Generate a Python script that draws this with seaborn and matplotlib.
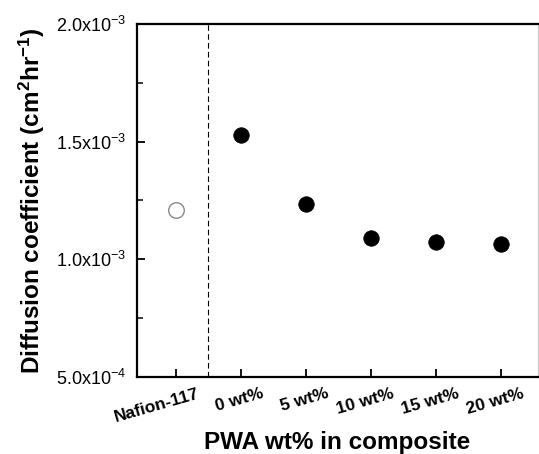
import matplotlib
matplotlib.use("Agg")
import matplotlib.pyplot as plt
import matplotlib.transforms as mtransforms
import seaborn as sns
import pandas as pd
from matplotlib.ticker import FixedLocator, MultipleLocator, FuncFormatter

categories = ["Nafion-117", "0 wt%", "5 wt%", "10 wt%", "15 wt%", "20 wt%"]
diffusion = [1.21e-3, 1.528e-3, 1.234e-3, 1.090e-3, 1.075e-3, 1.063e-3]
sample_type = ["reference", "composite", "composite", "composite", "composite", "composite"]

sns.set_style("ticks")
plt.rcParams["font.family"] = ["Liberation Sans", "DejaVu Sans"]
plt.rcParams["mathtext.fontset"] = "custom"
plt.rcParams["mathtext.rm"] = "Liberation Sans"
plt.rcParams["mathtext.bf"] = "Liberation Sans:bold"
plt.rcParams["mathtext.it"] = "Liberation Sans:italic"
for key in ["text.color", "axes.labelcolor", "xtick.color", "ytick.color"]:
    plt.rcParams[key] = "black"

df = pd.DataFrame({"cat": categories, "D": diffusion, "type": sample_type})

fig = plt.figure(figsize=(5.39, 4.54), dpi=100)
ax = fig.add_axes([0.254, 0.170, 0.744, 0.777])

sns.scatterplot(data=df[df["type"] == "reference"], x="cat", y="D", ax=ax,
                marker="o", s=125, facecolor="white", edgecolor="#888888",
                linewidth=1.0, legend=False)
sns.scatterplot(data=df[df["type"] == "composite"], x="cat", y="D", ax=ax,
                marker="o", s=125, color="black", edgecolor="black",
                linewidth=0.5, legend=False)

ax.set_xticks(range(len(categories)))
ax.set_xticklabels([])
base = mtransforms.blended_transform_factory(ax.transData, ax.transAxes)
offset = mtransforms.ScaledTranslation(0.24, -0.21, fig.dpi_scale_trans)
for i, name in enumerate(categories):
    ax.text(i, 0, name, transform=base + offset, rotation=16,
            rotation_mode="anchor", ha="right", va="baseline",
            fontsize=12.5, fontweight="bold", color="black")

ax.set_xlim(-0.6, len(categories) - 0.43)
ax.set_ylim(5e-4, 2.0e-3)
ax.axvline(0.5, color="black", linestyle=(0, (5, 3)), linewidth=0.8)

ax.yaxis.set_major_locator(FixedLocator([5e-4, 1.0e-3, 1.5e-3, 2.0e-3]))
ax.yaxis.set_minor_locator(MultipleLocator(2.5e-4))

def fmt(v, pos):
    m, e = f"{v:.1e}".split("e")
    return r"$\mathrm{%sx10^{%d}}$" % (m, int(e))

ax.yaxis.set_major_formatter(FuncFormatter(fmt))
ax.tick_params(axis="y", which="major", labelsize=13, direction="in", length=6, width=1.3, pad=8,
               colors="black")
ax.tick_params(axis="y", which="minor", direction="in", length=4, width=1.1, colors="black")
ax.tick_params(axis="x", which="major", direction="in", length=5.5, width=1.3, colors="black")

ax.set_xlabel("PWA wt% in composite", fontsize=17.5, fontweight="bold", color="black")
ax.set_ylabel(r"Diffusion coefficient (cm$\mathbf{^2}$hr$\mathbf{^{-1}}$)",
              fontsize=17.5, fontweight="bold", color="black")
ax.xaxis.set_label_coords(0.5, -0.155)
ax.yaxis.set_label_coords(-0.225, 0.5)

for side in ["left", "bottom", "top"]:
    ax.spines[side].set_linewidth(1.6)
    ax.spines[side].set_color("black")
ax.spines["right"].set_linewidth(1.0)
ax.spines["right"].set_color("#cccccc")

fig.savefig("out.png", dpi=100)
